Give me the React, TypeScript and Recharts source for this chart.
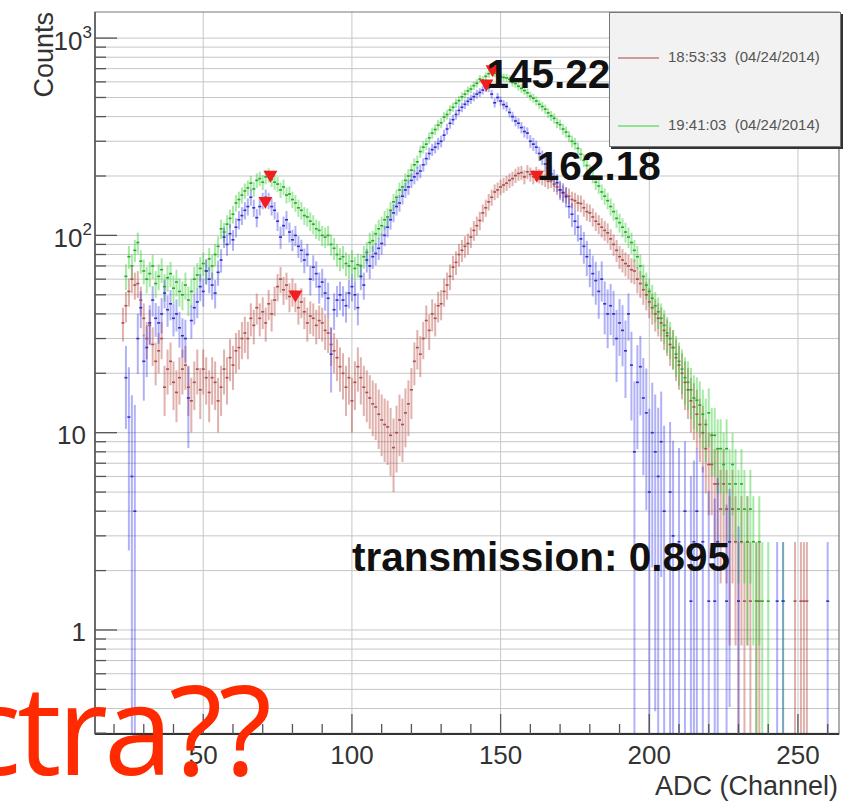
import React from "react";
import {
  ComposedChart,
  Scatter,
  ErrorBar,
  XAxis,
  YAxis,
  CartesianGrid,
  ReferenceArea,
} from "recharts";

// ADC spectra, one entry per channel starting at firstChannel (0 = empty bin)
const firstChannel = 23;

const redCounts = [
  36, 44, 52, 60, 56, 57, 47, 38, 30, 35, // 23
  28, 23, 26, 30, 17, 21, 23, 18, 16, 19, // 33
  21, 22, 17, 14.5, 18, 21, 16.5, 21, 19, 16, // 43
  19, 18, 14.5, 17, 21, 19, 24, 22, 26, 27, // 53
  30, 32, 30, 38, 35, 43, 38, 41, 36, 45, // 63
  40, 47, 55, 60, 53, 56, 49, 52, 49, 43, // 73
  46, 41, 36, 39, 38, 35, 37, 36, 33, 32, // 83
  28, 26, 24, 21.6, 20, 17, 19, 14.5, 18, 21.6, // 93
  19, 17, 16, 15, 14, 13.5, 12.4, 11.6, 11, 10.7, // 103
  9.7, 8.4, 10, 11.6, 11, 12.6, 14, 16.5, 23, 27, // 113
  25, 30, 37, 33, 40, 38, 44, 45, 52, 56, // 123
  62, 69, 73, 80, 84, 88, 91, 98, 106, 112, // 133
  119, 130, 138, 148, 156, 166, 170, 176, 180, 184, // 143
  190, 194, 201, 206, 208, 198, 210, 204, 198, 206, // 153
  200, 196, 192, 188, 190, 182, 176, 170, 164, 160, // 163
  158, 152, 150, 146, 145, 138, 132, 130, 124, 118, // 173
  114, 110, 106, 103, 96, 90, 84, 78, 75, 72, // 183
  70, 67, 66, 60, 57, 53, 50, 46, 43, 40, // 193
  38, 36, 33, 31, 28, 27, 24, 22, 20, 18, // 203
  16.5, 14.5, 13.5, 12.4, 11, 10, 8.3, 6.9, 6.9, 5.5, // 213
  5.5, 4.1, 5.5, 4.1, 2.8, 4.1, 2.8, 1.4, 2.8, 1.4, // 223
  2.8, 1.4, 0, 1.4, 1.4, 0, 0, 0, 0, 0, // 233
  0, 0, 0, 0, 0, 0, 1.4, 0, 1.4, 1.4, // 243
  1.4, 0, 0, 0, 0, 0, 0, 0, 0, 0, // 253
];

const greenCounts = [
  0, 62, 78, 70, 84, 92, 74, 66, 60, 64, // 23
  70, 57, 62, 67, 55, 61, 64, 54, 58, 52, // 33
  50, 56, 47, 52, 60, 63, 68, 72, 66, 76, // 43
  70, 80, 88, 108, 104, 114, 122, 128, 146, 152, // 53
  160, 168, 174, 184, 172, 190, 194, 186, 198, 202, // 63
  192, 186, 182, 170, 176, 160, 162, 152, 146, 138, // 73
  134, 126, 124, 118, 114, 108, 106, 100, 98, 100, // 83
  90, 86, 80, 76, 78, 72, 70, 74, 68, 71, // 93
  70, 78, 82, 92, 94, 102, 108, 112, 120, 124, // 103
  134, 148, 156, 170, 176, 190, 200, 214, 228, 236, // 113
  266, 280, 290, 312, 330, 344, 362, 372, 398, 410, // 123
  432, 446, 468, 482, 504, 520, 540, 552, 574, 590, // 133
  620, 612, 640, 660, 676, 664, 650, 640, 632, 628, // 143
  618, 596, 588, 570, 556, 542, 528, 508, 496, 480, // 153
  462, 450, 436, 418, 404, 392, 372, 364, 346, 334, // 163
  318, 300, 292, 276, 258, 240, 226, 212, 200, 186, // 173
  178, 166, 158, 150, 140, 132, 122, 116, 110, 104, // 183
  98, 92, 84, 78, 70, 62, 56, 52, 48, 44, // 193
  41, 38, 35, 32, 30, 27, 25, 23, 21, 19, // 203
  18, 16.5, 15, 14.6, 13.8, 12.4, 11, 12.6, 9.7, 9.7, // 213
  8.3, 8.3, 6.9, 8.3, 5.5, 6.9, 5.5, 4.1, 5.5, 4.1, // 223
  2.8, 4.1, 2.8, 1.4, 2.8, 1.4, 0, 1.4, 0, 0, // 233
  0, 0, 1.4, 0, 0, 0, 0, 0, 0, 0, // 243
  0, 0, 0, 0, 0, 0, 0, 0, 0, 0, // 253
];

const blueCounts = [
  0, 19, 12, 6, 4, 30, 43, 23, 27, 36, // 23
  47, 38, 36, 40, 51, 42, 45, 38, 40, 34, // 33
  31, 30, 15, 37, 43, 46, 55, 52, 66, 60, // 43
  56, 51, 65, 75, 98, 90, 102, 95, 110, 120, // 53
  126, 134, 140, 156, 138, 123, 140, 150, 156, 150, // 63
  140, 134, 118, 98, 112, 120, 104, 95, 100, 88, // 73
  84, 75, 80, 60, 69, 64, 55, 58, 51, 48, // 83
  25, 42, 47, 50, 47, 44, 51, 55, 50, 43, // 93
  62, 56, 75, 70, 78, 81, 86, 91, 100, 110, // 103
  120, 130, 140, 146, 158, 170, 176, 190, 198, 206, // 113
  212, 228, 245, 260, 272, 280, 292, 300, 322, 346, // 123
  370, 386, 410, 430, 446, 462, 478, 490, 505, 520, // 133
  530, 545, 560, 560, 520, 470, 500, 480, 460, 450, // 143
  420, 400, 380, 370, 352, 336, 330, 300, 290, 280, // 153
  260, 248, 230, 220, 205, 196, 185, 170, 165, 157, // 163
  140, 128, 118, 110, 96, 88, 78, 70, 64, 59, // 173
  52, 60, 45, 40, 44, 40, 30, 36, 33, 26, // 183
  40, 22, 8, 18, 21.6, 15, 12.6, 5, 10, 8, // 193
  6, 9, 4, 0, 5, 3, 0, 2.8, 0, 4, // 203
  0, 1.4, 2.8, 4, 0, 2.8, 0, 1.4, 0, 1.4, // 213
  2.8, 0, 0, 1.4, 2.8, 0, 0, 1.4, 0, 0, // 223
  0, 0, 0, 0, 0, 0, 0, 0, 0, 0, // 233
  1.4, 0, 1.4, 0, 0, 0, 0, 0, 0, 0, // 243
  0, 0, 0, 0, 0, 0, 0, 1.4, 0, 0, // 253
];

// weight of a single recorded event after normalisation
const eventWeight = 1.38;

// peak finder output: marker positions
const peakChannels = [72.6, 70.9, 81.0, 147.3, 145.22, 162.18];
const peakHeights = [198, 146, 49, 680, 575, 198];

// text annotations placed in data coordinates
const noteChannels = [145.22, 162.18, 100];
const noteHeights = [558, 191, 2];
const noteTexts = ["145.22", "162.18", "transmission: 0.895"];

const legendNames = ["18:53:33  (04/24/2014)", "19:41:03  (04/24/2014)"];

const xDomain: [number, number] = [13.6, 263.8];
const yDomain: [number, number] = [0.297, 1356];
const xTicks = [20, 30, 40, 50, 60, 70, 80, 90, 100, 110, 120, 130, 140, 150, 160, 170, 180, 190, 200, 210, 220, 230, 240, 250, 260];
const xMajor = [50, 100, 150, 200, 250];
const yTicks = [
  0.3, 0.4, 0.5, 0.6, 0.7, 0.8, 0.9,
  1, 2, 3, 4, 5, 6, 7, 8, 9,
  10, 20, 30, 40, 50, 60, 70, 80, 90,
  100, 200, 300, 400, 500, 600, 700, 800, 900,
  1000,
];

const COLORS = {
  red: { bar: "rgba(180, 70, 60, 0.42)", mark: "#a85050", line: "#cf9a9a" },
  blue: { bar: "rgba(50, 50, 235, 0.38)", mark: "#3030c8" },
  green: { bar: "rgba(40, 205, 40, 0.42)", mark: "#2aa82a", line: "#92e092" },
};

type Pt = { ch: number; v: number; err: [number, number] };

function toPoints(counts: number[], errOf: (i: number, v: number) => number): Pt[] {
  const out: Pt[] = [];
  counts.forEach((v, i) => {
    if (v <= 0) return;
    const e = errOf(i, v);
    // clip the lower error at the bottom of the log axis
    out.push({ ch: firstChannel + i, v, err: [Math.min(e, v - yDomain[0] * 1.002), e] });
  });
  return out;
}

const redPoints = toPoints(redCounts, (_i, v) => Math.sqrt(eventWeight * v));
const greenPoints = toPoints(greenCounts, (_i, v) => Math.sqrt(eventWeight * v));
// blue carries the averaged uncertainty of the two measurements
const bluePoints = toPoints(blueCounts, (i, v) =>
  Math.sqrt(eventWeight * Math.max((redCounts[i] + greenCounts[i]) / 2, v))
);

const peaks = peakChannels.map((ch, i) => ({ ch, v: peakHeights[i] }));
const notes = noteChannels.map((ch, i) => ({ ch, v: noteHeights[i], text: noteTexts[i] }));

const AXIS_FONT = "'Liberation Sans', Arial, Helvetica, sans-serif";

const binMark = (color: string) => (props: any) => {
  const { cx, cy } = props;
  if (cx == null || cy == null) return <g />;
  return <line x1={cx - 1.5} x2={cx + 1.5} y1={cy} y2={cy} stroke={color} strokeWidth={1.6} />;
};

const peakMark = (props: any) => {
  const { cx, cy } = props;
  if (cx == null || cy == null) return <g />;
  return <path d={`M${cx - 7},${cy - 6} L${cx + 7},${cy - 6} L${cx},${cy + 6} Z`} fill="#f21d1d" />;
};

const noteMark = (props: any) => {
  const { cx, cy, payload } = props;
  if (cx == null || cy == null) return <g />;
  return (
    <text x={cx} y={cy} fontFamily={AXIS_FONT} fontWeight="bold" fontSize={40.5} fill="#111">
      {payload.text}
    </text>
  );
};

const YTick = (props: any) => {
  const { x, y, payload } = props;
  const v = payload.value as number;
  const exp = Math.round(Math.log10(v));
  const decade = Math.abs(Math.log10(v) - exp) < 1e-6;
  return (
    <g>
      <line x1={x} x2={x + (decade ? 22 : 11)} y1={y} y2={y} stroke="#555" strokeWidth={1.3} />
      {decade && exp >= 2 && (
        <text x={x - 3} y={y + 12} textAnchor="end" fontFamily={AXIS_FONT} fontSize={26} fill="#333">
          10
          <tspan dy={-12} fontSize={17}>
            {exp}
          </tspan>
        </text>
      )}
      {decade && exp < 2 && exp >= 0 && (
        <text x={x - 9} y={y + 11} textAnchor="end" fontFamily={AXIS_FONT} fontSize={26} fill="#333">
          {v}
        </text>
      )}
    </g>
  );
};

const XTick = (props: any) => {
  const { x, y, payload } = props;
  const v = payload.value as number;
  const major = v % 50 === 0;
  return (
    <g>
      <line x1={x} x2={x} y1={y} y2={y - (major ? 20 : 10)} stroke="#555" strokeWidth={1.3} />
      {major && (
        <text x={x} y={y + 30} textAnchor="middle" fontFamily={AXIS_FONT} fontSize={26} fill="#333">
          {v}
        </text>
      )}
    </g>
  );
};

function LegendBox() {
  const rows = [
    { name: legendNames[0], color: COLORS.red.line, top: 45 },
    { name: legendNames[1], color: COLORS.green.line, top: 113 },
  ];
  return (
    <div
      style={{
        position: "absolute",
        left: 609,
        top: 12,
        width: 230,
        height: 133,
        background: "#f2f2f2",
        border: "1px solid #777",
        boxShadow: "2px 2px 0 #333",
        fontFamily: AXIS_FONT,
      }}
    >
      {rows.map((r) => (
        <div key={r.name} style={{ position: "absolute", left: 0, top: r.top - 12, width: "100%" }}>
          <div style={{ position: "absolute", left: 8, top: 11, width: 41, height: 2, background: r.color }} />
          <div style={{ position: "absolute", left: 58, top: 2, fontSize: 15, color: "#555", whiteSpace: "pre" }}>
            {r.name}
          </div>
        </div>
      ))}
    </div>
  );
}

export default function App() {
  return (
    <div style={{ position: "absolute", left: 0, top: 0, width: 847, height: 802, background: "#fff", overflow: "hidden" }}>
      <ComposedChart width={847} height={802} margin={{ top: 12, right: 8, left: 0, bottom: 0 }}>
        <CartesianGrid stroke="#c6c6c6" strokeWidth={1} horizontalValues={yTicks} verticalValues={xMajor} />
        <XAxis
          type="number"
          dataKey="ch"
          domain={xDomain}
          allowDataOverflow
          ticks={xTicks}
          interval={0}
          height={68}
          tickSize={0}
          tickMargin={0}
          tickLine={false}
          axisLine={{ stroke: "#333", strokeWidth: 2 }}
          tick={<XTick />}
        />
        <YAxis
          type="number"
          dataKey="v"
          scale="log"
          domain={yDomain}
          allowDataOverflow
          ticks={yTicks}
          interval={0}
          width={95}
          tickSize={0}
          tickMargin={0}
          tickLine={false}
          axisLine={{ stroke: "#555", strokeWidth: 1.5 }}
          tick={<YTick />}
        />
        <ReferenceArea x1={xDomain[0]} x2={xDomain[1]} y1={yDomain[0]} y2={yDomain[1]} fill="none" stroke="#777" strokeWidth={1.2} />
        <Scatter name={legendNames[0]} data={redPoints} shape={binMark(COLORS.red.mark)} isAnimationActive={false}>
          <ErrorBar dataKey="err" direction="y" width={0} stroke={COLORS.red.bar} strokeWidth={2} isAnimationActive={false} />
        </Scatter>
        <Scatter name={legendNames[1]} data={greenPoints} shape={binMark(COLORS.green.mark)} isAnimationActive={false}>
          <ErrorBar dataKey="err" direction="y" width={0} stroke={COLORS.green.bar} strokeWidth={2} isAnimationActive={false} />
        </Scatter>
        <Scatter name="difference" data={bluePoints} shape={binMark(COLORS.blue.mark)} isAnimationActive={false}>
          <ErrorBar dataKey="err" direction="y" width={0} stroke={COLORS.blue.bar} strokeWidth={2} isAnimationActive={false} />
        </Scatter>
        <Scatter name="peaks" data={peaks} shape={peakMark} isAnimationActive={false} />
        <Scatter name="notes" data={notes} shape={noteMark} isAnimationActive={false} />
      </ComposedChart>
      <LegendBox />
      <svg width={847} height={802} style={{ position: "absolute", left: 0, top: 0, pointerEvents: "none" }}>
        <text
          x={53}
          y={12}
          transform="rotate(-90 53 12)"
          textAnchor="end"
          fontFamily={AXIS_FONT}
          fontSize={27}
          fill="#333"
        >
          Counts
        </text>
        <text x={838} y={795} textAnchor="end" fontFamily={AXIS_FONT} fontSize={27} fill="#333">
          ADC (Channel)
        </text>
        <text x={268} y={775} textAnchor="end" fontFamily="'Open Sans', sans-serif" fontSize={124} fill="#ff2a00" letterSpacing={-4}>
          ctra??
        </text>
      </svg>
    </div>
  );
}
